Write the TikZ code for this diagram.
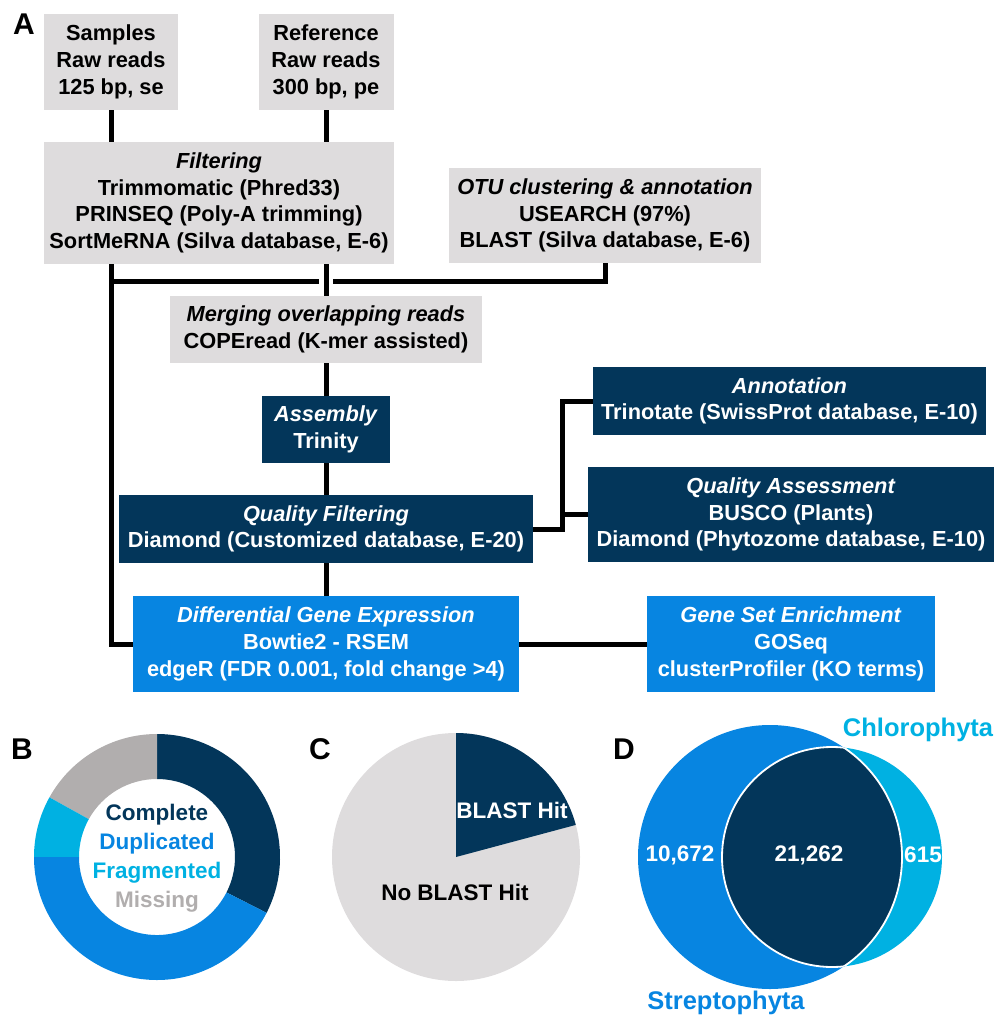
\documentclass[tikz,border=0pt]{standalone}
\usepackage{fontspec}
\setmainfont{Liberation Sans}
\usepackage{tikz}
\definecolor{boxgray}{HTML}{DEDCDD}
\definecolor{navy}{HTML}{03365A}
\definecolor{midblue}{HTML}{0785E1}
\definecolor{lightcyan}{HTML}{00B1E2}
\definecolor{missgray}{HTML}{B1AEAE}

\begin{document}
\begin{tikzpicture}[x=1pt,y=-1pt,
 box/.style={inner sep=0pt,align=center,font=\bfseries\fontsize{21.8}{26.7}\selectfont},
 greybox/.style={box,fill=boxgray},
 navybox/.style={box,fill=navy,text=white},
 bluebox/.style={box,fill=midblue,text=white},
 conn/.style={line width=5pt},
 panel/.style={font=\bfseries\fontsize{30}{30}\selectfont},
 lbl/.style={font=\bfseries\fontsize{22.5}{22.5}\selectfont},
 biglbl/.style={font=\bfseries\fontsize{25.5}{25.5}\selectfont}]
\useasboundingbox (0,0) rectangle (997,1019);

% panel A
\node[panel] (pA) at (24,24) {A};
\node[greybox,minimum width=134pt,minimum height=96pt] (samples) at (111,62) {Samples\\Raw reads\\125 bp, se};
\node[greybox,minimum width=135pt,minimum height=96pt] (reference) at (326,62) {Reference\\Raw reads\\300 bp, pe};
\node[greybox,minimum width=350pt,minimum height=122pt] (filtering) at (219,203) {\textit{Filtering}\\Trimmomatic (Phred33)\\PRINSEQ (Poly-A trimming)\\SortMeRNA (Silva database, E-6)};
\node[greybox,minimum width=312pt,minimum height=95pt] (otu) at (605,215.5) {\textit{OTU clustering \& annotation}\\USEARCH (97\%)\\BLAST (Silva database, E-6)};
\node[greybox,minimum width=312pt,minimum height=67pt] (merging) at (326,329.5) {\textit{Merging overlapping reads}\\COPEread (K-mer assisted)};
\node[navybox,minimum width=128pt,minimum height=67pt] (assembly) at (326,429.5) {\textit{Assembly}\\Trinity};
\node[navybox,minimum width=414pt,minimum height=68pt] (qf) at (326,529) {\textit{Quality Filtering}\\Diamond (Customized database, E-20)};
\node[navybox,minimum width=393pt,minimum height=68pt] (annot) at (789.5,401) {\textit{Annotation}\\Trinotate (SwissProt database, E-10)};
\node[navybox,minimum width=406pt,minimum height=95pt] (qa) at (791,514.5) {\textit{Quality Assessment}\\BUSCO (Plants)\\Diamond (Phytozome database, E-10)};
\node[bluebox,minimum width=386pt,minimum height=96pt] (dge) at (326,644) {\textit{Differential Gene Expression}\\Bowtie2 - RSEM\\edgeR (FDR 0.001, fold change >4)};
\node[bluebox,minimum width=288pt,minimum height=96pt] (gse) at (791,644) {\textit{Gene Set Enrichment}\\GOSeq\\clusterProfiler (KO terms)};

\draw[conn] (samples.south) -- (samples.south |- filtering.north);
\draw[conn] (reference.south) -- (reference.south |- filtering.north);
\draw[conn] (merging.north |- filtering.south) -- (merging.north);
\draw[conn] (samples.south |- filtering.south) |- (dge.west);
\coordinate (fork) at (111,281);
\draw[conn] (fork) -- ([xshift=-7pt]fork -| merging.north);
\draw[conn] ([xshift=7pt]fork -| merging.north) -| (otu.south);
\draw[conn] (merging) -- (assembly);
\draw[conn] (assembly) -- (qf);
\draw[conn] (qf) -- (dge);
\coordinate (qfturn) at ([xshift=29pt]qf.east);
\draw[conn] (qf.east) -- (qfturn) |- (annot.west);
\draw[conn] (qa.west) -| (qfturn);
\draw[conn] (dge.east) -- (gse.west);

% panel B
\node[panel] (pB) at (22,749) {B};
\begin{scope}[shift={(157,857)},x=1pt,y=1pt]
\foreach \a/\b/\c in {-27/90/navy,90/151/missgray,151/180/lightcyan,180/333/midblue}
  \fill[\c] (\a:123) arc[start angle=\a,end angle=\b,radius=123] -- (\b:78) arc[start angle=\b,end angle=\a,radius=78] -- cycle;
\end{scope}
\node[lbl,text=navy] (compl) at (157,815) {Complete};
\node[lbl,text=midblue] (dupl) at (157,844) {Duplicated};
\node[lbl,text=lightcyan] (frag) at (157,873) {Fragmented};
\node[lbl,text=missgray] (miss) at (157,902) {Missing};

% panel C
\node[panel] (pC) at (320,749) {C};
\begin{scope}[shift={(456,857)},x=1pt,y=1pt]
\fill[boxgray] (0,0) circle[radius=124];
\fill[navy] (0,0) -- (15:124) arc[start angle=15,end angle=90,radius=124] -- cycle;
\end{scope}
\node[lbl,text=white] (hit) at (512,810) {BLAST Hit};
\node[lbl] (nohit) at (455,892) {No BLAST Hit};

% panel D
\node[panel] (pD) at (624,749) {D};
\fill[midblue] (770,857) circle[radius=132];
\fill[lightcyan] (832,857) circle[radius=110];
\begin{scope}
\clip (770,857) circle[radius=132];
\fill[navy,draw=white,line width=1.8pt] (832,857) circle[radius=110];
\end{scope}
\begin{scope}
\clip (832,857) circle[radius=110];
\draw[white,line width=1.8pt] (770,857) circle[radius=132];
\end{scope}
\node[lbl,text=white] (strep) at (680,855) {10,672};
\node[lbl,text=white] (both) at (809,855) {21,262};
\node[lbl,text=white] (chlo) at (923,855) {615};
\node[biglbl,text=lightcyan] (chloname) at (918,730) {Chlorophyta};
\node[biglbl,text=midblue] (strepname) at (726,1003) {Streptophyta};
\end{tikzpicture}
\end{document}
